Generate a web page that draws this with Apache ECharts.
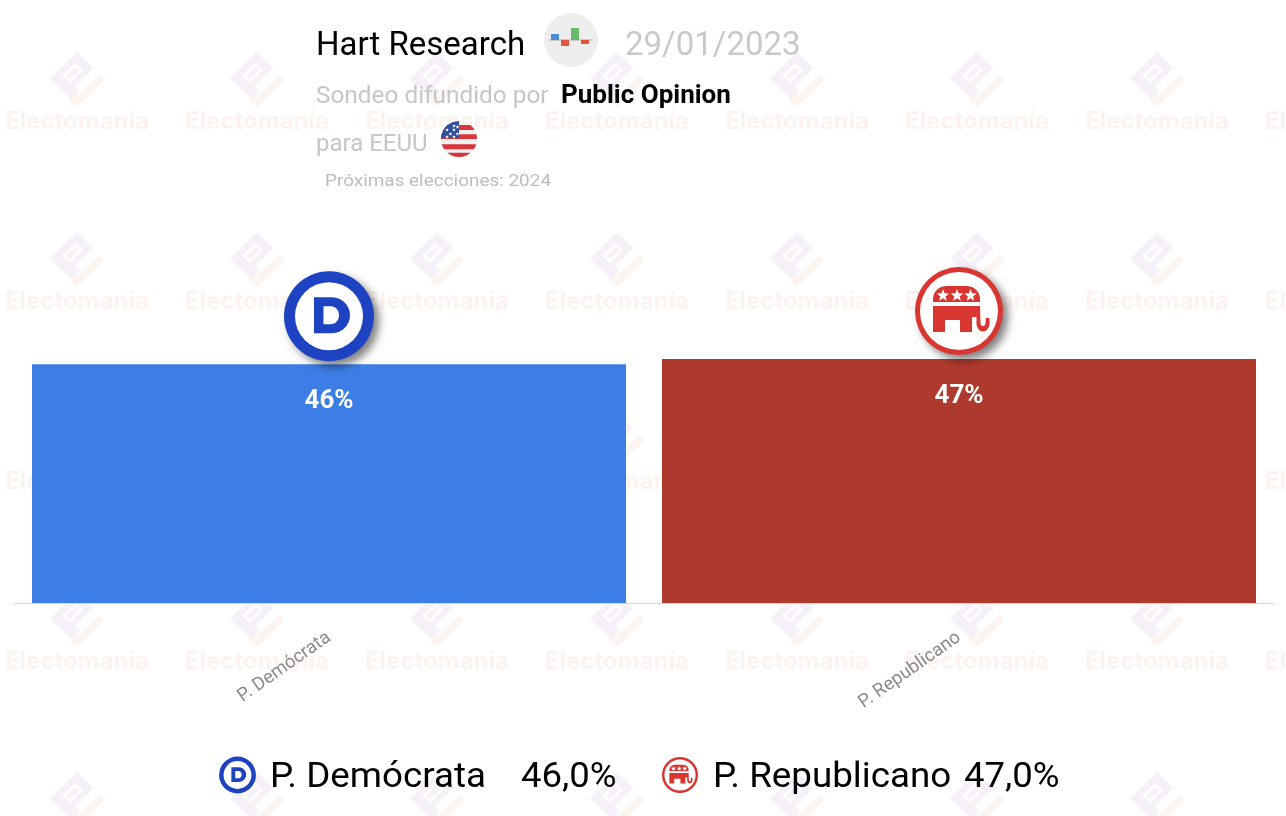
<!DOCTYPE html>
<html><head><meta charset="utf-8">
<style>html,body{margin:0;padding:0;background:#fff}#c{width:1286px;height:816px}</style>
<script src="https://cdn.jsdelivr.net/npm/echarts@6/dist/echarts.min.js"></script>
</head><body><div id="c"></div>
<script>
const categories = ['P. Demócrata', 'P. Republicano'];
const values = [46, 47];
const barColors = ['#3d7ee6', '#ae392d'];
const pollster = 'Hart Research';
const pollDate = '29/01/2023';
const promoter = 'Public Opinion';

const F = 'Roboto, sans-serif';
const chart = echarts.init(document.getElementById('c'));

function txt(text, x, y, size, fill, weight, sx) {
  return {type: 'text', x, y, scaleX: sx || 1, style: {text, x: 0, y: 0, fill, font: (weight || 400) + ' ' + size + 'px ' + F, verticalAlign: 'middle'}};
}
function poly(points, fill) { return {type: 'polygon', shape: {points}, style: {fill}}; }
function circle(cx, cy, r, fill, extra) { return {type: 'circle', shape: {cx, cy, r}, style: Object.assign({fill}, extra || {})}; }
function arc(cx, cy, rx, ry, a0, a1) {
  const p = [], n = 14;
  for (let i = 0; i <= n; i++) {
    const a = (a0 + (a1 - a0) * i / n) * Math.PI / 180;
    p.push([cx + rx * Math.cos(a), cy + ry * Math.sin(a)]);
  }
  return p;
}
function star(cx, cy, r, fill) {
  const p = [];
  for (let i = 0; i < 10; i++) {
    const a = -Math.PI / 2 + i * Math.PI / 5, q = i % 2 ? r * 0.42 : r;
    p.push([cx + q * Math.cos(a), cy + q * Math.sin(a)]);
  }
  return poly(p, fill);
}
const SHADOW = {shadowBlur: 8, shadowOffsetX: 5, shadowOffsetY: 5, shadowColor: 'rgba(0,0,0,.5)'};
function demIcon(shadow) {
  const c = '#1d42c2';
  return [
    circle(0, 0, 45, c, shadow ? SHADOW : {}),
    circle(0, 0, 34, '#fff'),
    poly([[-15, -19]].concat(arc(3, -1, 18, 18, -90, 90), [[-15, 17]]), c),
    poly([[-5.5, -10]].concat(arc(2, -1, 8, 9, -90, 90), [[-5.5, 8]]), '#fff')
  ];
}
function repIcon(shadow, inner) {
  const c = '#d93631';
  return [
    circle(0, 0, 44, c, shadow ? SHADOW : {}),
    circle(0, 0, inner || 39, '#fff'),
    poly([[-26, -9]].concat(arc(-13, -12, 13, 13, 180, 270), arc(8, -12, 13, 13, -90, 0), [[21, -9]]), c),
    poly([[-26, -5], [21, -5]].concat(arc(24, 12, 2.5, 3, 180, 0), [[27, 7], [30.5, 7]], arc(24, 12, 6.5, 8.5, 0, 180),
      [[17.5, 6], [13, 6], [13, 21], [1, 21], [1, 9], [-14, 9], [-14, 21], [-26, 21]]), c),
    star(-16, -15.5, 6.5, '#fff'), star(-2, -15.5, 6.5, '#fff'), star(11.5, -15.5, 6.5, '#fff')
  ];
}
const iconBuilders = [demIcon, repIcon];

function watermark() {
  const out = [];
  for (let r = 0; r < 5; r++) for (let k = 0; k < 8; k++) {
    const kids = [
      poly([[77, 52], [93, 68], [75, 86], [80, 91], [71, 99], [50, 79]], '#f6f1f8'),
      poly([[62, 76], [75, 63], [83, 70], [70, 83]], '#fff'),
      poly([[66, 76], [75, 67], [79, 70], [70, 79]], '#f6f1f8'),
      poly([[99, 75], [104.5, 80], [77, 107], [69, 100], [75, 94], [77, 96]], '#fbf4ef')
    ];
    if (r < 4) kids.push({type: 'text', style: {text: 'Electomanía', x: 5, y: 121.5, fill: '#fdf3ee', font: '700 24px Inter, sans-serif', verticalAlign: 'middle'}});
    out.push({type: 'group', x: 180 * k, y: 180 * r, children: kids});
  }
  return out;
}
function flag(cx, cy, r) {
  const chord = (y0, y1, fill) => {
    const pts = [], n = 14;
    for (let i = 0; i <= n; i++) { const y = y0 + (y1 - y0) * i / n; pts.push([cx + Math.sqrt(Math.max(0, r * r - y * y)), cy + y]); }
    for (let i = n; i >= 0; i--) { const y = y0 + (y1 - y0) * i / n; pts.push([cx - Math.sqrt(Math.max(0, r * r - y * y)), cy + y]); }
    return poly(pts, fill);
  };
  const canton = [[cx, cy - 1]];
  for (let i = 0; i <= 16; i++) {
    const y = -1 - (r - 1) * i / 16;
    canton.push([cx - Math.sqrt(Math.max(0, r * r - y * y)), cy + y]);
  }
  const stars = [];
  [[-12, -9], [-5, -9], [-8.5, -5], [-1.5, -5], [-12, -2], [-5, -2], [-5, -13], [-1.5, -12]].forEach(s => stars.push(star(cx + s[0], cy + s[1], 2, '#fff')));
  return [
    circle(cx, cy, r, '#f0f0f0'),
    chord(-14, -9, '#d8363a'), chord(-4.7, 0, '#d8363a'), chord(5.3, 10.3, '#d8363a'), chord(13.7, 18, '#d8363a'),
    poly(canton, '#2f4f9e')
  ].concat(stars);
}
const fmt = v => v.toFixed(1).replace('.', ',') + '%';

const graphics = [].concat(
  watermark(),
  [
    txt(pollster, 316, 47, 33, '#000'),
    circle(571, 40, 27, '#eeeeee'),
    {type: 'rect', shape: {x: 549, y: 39.5, width: 44, height: 1}, style: {fill: '#aaa'}},
    {type: 'rect', shape: {x: 551, y: 34, width: 8, height: 6}, style: {fill: '#4a90d9'}},
    {type: 'rect', shape: {x: 561, y: 40, width: 8, height: 6}, style: {fill: '#e2583e'}},
    {type: 'rect', shape: {x: 571, y: 28, width: 8, height: 12}, style: {fill: '#66bb6a'}},
    {type: 'rect', shape: {x: 581, y: 40, width: 8, height: 4}, style: {fill: '#e2583e'}},
    txt(pollDate, 625, 47, 33, '#c9c9c9'),
    txt('Sondeo difundido por', 316, 97, 24, '#c6c6c6', 400, 1.015),
    txt(promoter, 561, 97, 25, '#000', 700, 1.04),
    txt('para EEUU', 316, 145, 24, '#c6c6c6'),
    txt('Próximas elecciones: 2024', 325, 182, 17, '#bdbdbd', 400, 1.113)
  ],
  flag(459, 139, 18),
  [
    {type: 'group', x: 237.5, y: 775, scaleX: 0.41, scaleY: 0.41, children: demIcon(false)},
    txt(categories[0], 270, 778, 35, '#000', 400, 1.05),
    txt(fmt(values[0]), 521, 778, 35, '#000', 400, 1.044),
    {type: 'group', x: 680, y: 775, scaleX: 0.41, scaleY: 0.41, children: repIcon(false, 38)},
    txt(categories[1], 713, 778, 35, '#000', 400, 1.05),
    txt(fmt(values[1]), 964, 778, 35, '#000', 400, 1.044)
  ]
);

chart.setOption({
  animation: false,
  graphic: {elements: graphics},
  grid: {left: 14, top: 84, width: 1260, height: 519, containLabel: false},
  xAxis: {
    type: 'category', data: categories,
    axisLine: {lineStyle: {color: '#d8d8d8', width: 1}}, axisTick: {show: false},
    axisLabel: {rotate: 35, margin: 33, fontFamily: F, fontSize: 18.5, color: '#8a8a8a', interval: 0}
  },
  yAxis: {type: 'value', min: 0, max: 100, show: false},
  series: [
    {
      type: 'bar', barWidth: 594, z: 2,
      data: values.map((v, i) => ({value: v, itemStyle: {color: barColors[i]}})),
      label: {show: true, position: 'insideTop', distance: 24, formatter: '{c}%', color: '#fff', fontFamily: F, fontWeight: 700, fontSize: 26}
    },
    {
      type: 'custom', z: 5, clip: false, silent: true,
      data: values.map((v, i) => [i, v]),
      encode: {x: 0, y: 1},
      renderItem: function (params, api) {
        const p = api.coord([api.value(0), api.value(1)]);
        return {type: 'group', x: p[0], y: p[1] - 48, children: iconBuilders[params.dataIndex](true)};
      }
    }
  ]
});
</script></body></html>
